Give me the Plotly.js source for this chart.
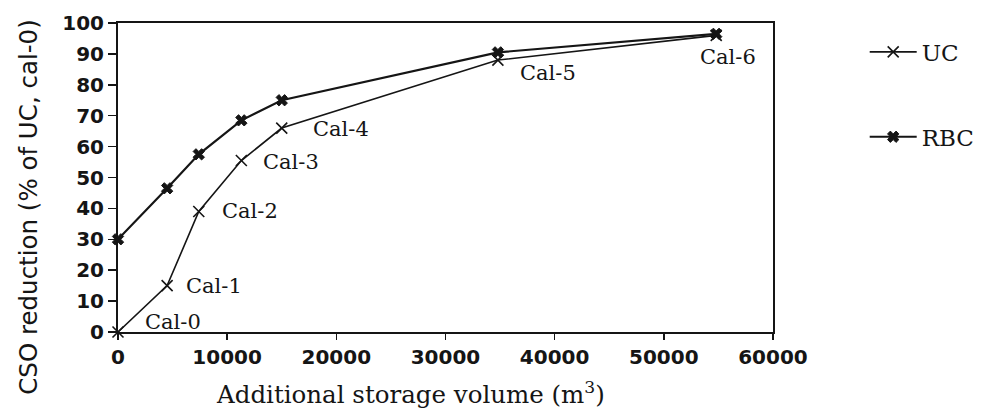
<!DOCTYPE html>
<html>
<head>
<meta charset="utf-8">
<script src="https://cdn.plot.ly/plotly-3.0.1.min.js"></script>
<style>html,body{margin:0;padding:0;background:#fff;}#chart{width:981px;height:410px;}</style>
</head>
<body>
<div id="chart"></div>
<script>
// Data
const storageVolume = [0, 4500, 7400, 11300, 15000, 34800, 54800];
const ucReduction   = [0, 15, 39, 55.5, 66, 88, 96];
const rbcReduction  = [30, 46.5, 57.5, 68.5, 75, 90.5, 96.5];
const calLabels     = ["Cal-0", "Cal-1", "Cal-2", "Cal-3", "Cal-4", "Cal-5", "Cal-6"];
const seriesNames   = ["UC", "RBC"];

// label offsets (pixels) relative to UC points
const labelShiftX = [25, 17, 21, 20, 29, 20, -18];
const labelShiftY = [10, 0, 0, -1, -1, -13, -22];

const serif = "DejaVu Serif";
const sans = "DejaVu Sans";
const ink = "#151515";

const traces = [
  {
    x: storageVolume, y: ucReduction, name: seriesNames[0], type: "scatter", mode: "lines+markers",
    legendgroup: "a", cliponaxis: false,
    line: {color: ink, width: 1.6},
    marker: {symbol: "x-thin-open", size: 11, color: ink, line: {color: ink, width: 1.6}}
  },
  {
    x: storageVolume, y: rbcReduction, name: seriesNames[1], type: "scatter", mode: "lines+markers",
    legendgroup: "b", cliponaxis: false,
    line: {color: ink, width: 2.2},
    marker: {symbol: "x", size: 10, color: ink, line: {color: ink, width: 1}}
  }
];

const annotations = calLabels.map((t, i) => ({
  x: storageVolume[i], y: ucReduction[i], xref: "x", yref: "y",
  text: t, showarrow: false, xanchor: "left", yanchor: "middle",
  xshift: labelShiftX[i], yshift: labelShiftY[i],
  font: {family: serif, size: 21, color: ink}
}));

annotations.push({
  xref: "paper", yref: "paper", x: 0.447, y: -0.255, xanchor: "center", yanchor: "bottom",
  text: "Additional storage volume (m<sup>3</sup>)", showarrow: false,
  font: {family: serif, size: 24.5, color: ink}
});
annotations.push({
  xref: "paper", yref: "paper", x: -0.136, y: 0.405, xanchor: "center", yanchor: "middle",
  text: "CSO reduction (% of UC, cal-0)", showarrow: false, textangle: -90,
  font: {family: sans, size: 24.5, color: ink}
});

const layout = {
  width: 981, height: 410,
  margin: {l: 118, r: 208, t: 23, b: 78, autoexpand: false},
  paper_bgcolor: "#fff", plot_bgcolor: "#fff",
  showlegend: true,
  legend: {
    x: 1.140, y: 0.976, xanchor: "left", yanchor: "top",
    traceorder: "grouped", tracegroupgap: 52, itemwidth: 47,
    font: {family: serif, size: 23, color: ink},
    bgcolor: "rgba(0,0,0,0)"
  },
  xaxis: {
    range: [0, 60000], dtick: 10000, tick0: 0, tickformat: "d",
    showline: true, mirror: true, linecolor: ink, linewidth: 2,
    ticks: "outside", ticklen: 6, tickwidth: 1.5, tickcolor: ink,
    showgrid: false, zeroline: false, automargin: false,
    tickfont: {family: sans, size: 20, weight: "bold", color: ink}
  },
  yaxis: {
    range: [0, 100], dtick: 10, tick0: 0,
    showline: true, mirror: true, linecolor: ink, linewidth: 2,
    ticks: "outside", ticklen: 8, tickwidth: 1.5, tickcolor: ink,
    ticklabelstandoff: 0, automargin: false,
    showgrid: false, zeroline: false,
    tickfont: {family: sans, size: 20, weight: "bold", color: ink}
  },
  annotations: annotations
};

Plotly.newPlot("chart", traces, layout, {displayModeBar: false, staticPlot: true});
</script>
</body>
</html>
